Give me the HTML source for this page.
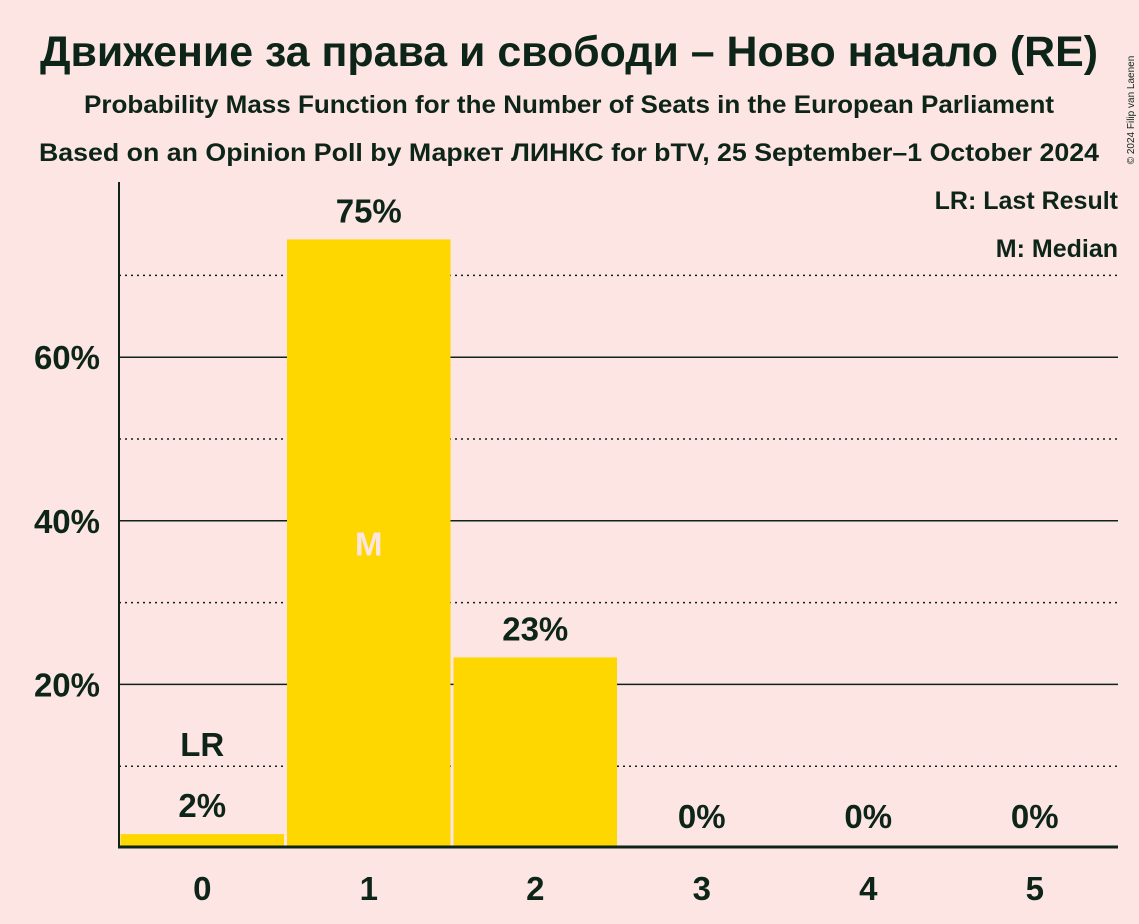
<!DOCTYPE html>
<html><head><meta charset="utf-8"><style>
html,body{margin:0;padding:0;background:#fde5e4;}
svg{display:block;font-family:"Liberation Sans",sans-serif;font-weight:bold;}
</style></head><body>
<svg id="chart" width="1139" height="924" viewBox="0 0 1139 924">
<rect width="1139" height="924" fill="#fde5e4"/>
<text x="569" y="66" text-anchor="middle" font-size="43" fill="#0d2418" textLength="1058" lengthAdjust="spacingAndGlyphs">Движение за права и свободи – Ново начало (RE)</text>
<text x="569" y="113" text-anchor="middle" font-size="25" fill="#0d2418" textLength="970" lengthAdjust="spacingAndGlyphs">Probability Mass Function for the Number of Seats in the European Parliament</text>
<text x="569" y="161" text-anchor="middle" font-size="25" fill="#0d2418" textLength="1060" lengthAdjust="spacingAndGlyphs">Based on an Opinion Poll by Маркет ЛИНКС for bTV, 25 September–1 October 2024</text>
<text x="1134" y="110" font-size="10" font-weight="normal" fill="#0d2418" transform="rotate(-90 1134 110)" text-anchor="middle">© 2024 Filip van Laenen</text>
<g id="grid"></g>
<g id="bars"></g>
<g id="labels"></g>
<line x1="119" y1="182" x2="119" y2="848" stroke="#0d2418" stroke-width="2"/>
<line x1="118" y1="847" x2="1118" y2="847" stroke="#0d2418" stroke-width="3"/>
<text x="1118" y="209" text-anchor="end" font-size="25" fill="#0d2418">LR: Last Result</text>
<text x="1118" y="257" text-anchor="end" font-size="25" fill="#0d2418">M: Median</text>
</svg>
<script>
const categories=[0,1,2,3,4,5];
const values=[1.7,74.4,23.3,0,0,0];
const valueLabels=["2%","75%","23%","0%","0%","0%"];
const yTicks=[20,40,60];
const yDotted=[10,30,50,70];
const lastResult=0;
const median=1;
const NS="http://www.w3.org/2000/svg";
const x0=119,x1=1118,bw=(x1-x0)/categories.length;
const y=v=>848-v*8.18;
const xc=i=>x0+bw*(i+0.5);
function mk(t,a,p){const e=document.createElementNS(NS,t);for(const k in a)e.setAttribute(k,a[k]);p.appendChild(e);return e;}
const grid=document.getElementById('grid'),bars=document.getElementById('bars'),labels=document.getElementById('labels');
yDotted.forEach(v=>{const l=mk('line',{x1:x0,x2:x1,y1:y(v),y2:y(v),stroke:'#0d2418','stroke-width':1.5,'stroke-dasharray':'2,4'},grid);

});
yTicks.forEach(v=>{const l=mk('line',{x1:x0,x2:x1,y1:y(v),y2:y(v),stroke:'#0d2418','stroke-width':1.5},grid);


const t=mk('text',{x:100,y:y(v)+12,'text-anchor':'end','font-size':33,fill:'#0d2418'},labels);t.textContent=v+'%';

});
categories.forEach((c,i)=>{
 const r=mk('rect',{x:x0+bw*i+1.5,width:bw-3,y:y(values[i]),height:848-y(values[i]),fill:'#ffd700'},bars);
 
 
 const t=mk('text',{x:xc(i),y:y(values[i])-17,'text-anchor':'middle','font-size':33,fill:'#0d2418'},labels);
 t.textContent=valueLabels[i];
 if(values[i]<1){t.setAttribute('y',828);}
 
 
 const xt=mk('text',{x:xc(i),y:900,'text-anchor':'middle','font-size':33,fill:'#0d2418'},labels);
 xt.textContent=c;
 
 
});
const lr=mk('text',{x:xc(lastResult),y:y(values[lastResult])-78,'text-anchor':'middle','font-size':33,fill:'#0d2418'},labels);
lr.textContent='LR';


const m=mk('text',{x:xc(median),y:y(values[median]/2)+12,'text-anchor':'middle','font-size':33,fill:'#fde5e4'},labels);
m.textContent='M';


</script>
</body></html>
